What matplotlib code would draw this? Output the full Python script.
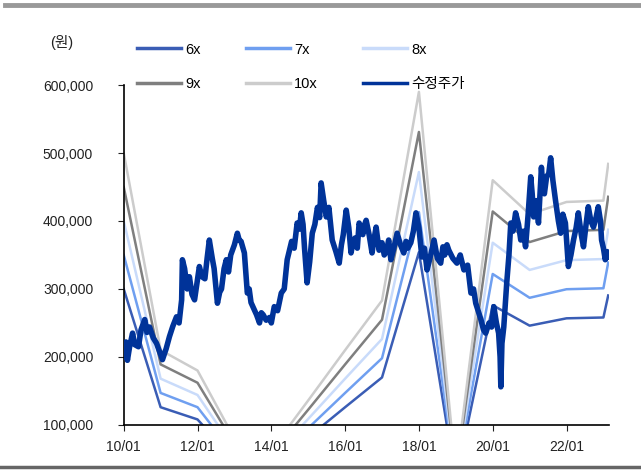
import numpy as np
import matplotlib.pyplot as plt
from matplotlib.lines import Line2D

plt.rcParams['font.family'] = ['Liberation Sans', 'Noto Sans CJK KR', 'DejaVu Sans']

# band anchor dates (decimal year) and EPS used for the PER bands
band_t = [2010.0, 2011.0, 2012.0, 2013.0, 2014.0, 2015.0, 2016.0, 2017.0,
          2018.0, 2019.0, 2020.0, 2021.0, 2022.0, 2023.0, 2023.13]
eps = [50000, 21000, 18000, 8000, 6300, 13600, 21000, 28300,
       59000, 3000, 46000, 41000, 42800, 43000, 48400]
multiples = [6, 7, 8, 9, 10]
band_labels = ['6x', '7x', '8x', '9x', '10x']
band_colors = ['#3a5db5', '#6f9ff0', '#c9dbfa', '#7f7f7f', '#cccccc']

# adjusted close price (수정주가)
price_t = [2010.0, 2010.03, 2010.06, 2010.1, 2010.16, 2010.24, 2010.3, 2010.4, 2010.47,
           2010.57, 2010.63, 2010.7, 2010.8, 2010.89, 2010.97,
           2011.05, 2011.15, 2011.24, 2011.33, 2011.43, 2011.5, 2011.57, 2011.59, 2011.65,
           2011.72, 2011.78, 2011.85, 2011.92, 2012.05, 2012.12, 2012.2, 2012.26, 2012.32,
           2012.4, 2012.45, 2012.54, 2012.6, 2012.65, 2012.72, 2012.78, 2012.84, 2012.9,
           2013.0, 2013.08, 2013.13, 2013.18, 2013.27, 2013.35, 2013.4, 2013.45, 2013.54,
           2013.6, 2013.68, 2013.73, 2013.78, 2013.86, 2013.95, 2014.0, 2014.08, 2014.17,
           2014.27, 2014.35, 2014.43, 2014.55, 2014.62, 2014.7, 2014.76, 2014.81, 2014.86,
           2014.9, 2014.97, 2015.04, 2015.11, 2015.18, 2015.25, 2015.31, 2015.35, 2015.42,
           2015.49, 2015.56, 2015.65, 2015.75, 2015.84, 2015.9, 2015.95, 2016.03, 2016.1,
           2016.16, 2016.22, 2016.27, 2016.33, 2016.38, 2016.48, 2016.53, 2016.57, 2016.65,
           2016.73, 2016.78, 2016.84, 2016.92, 2017.0, 2017.06, 2017.12, 2017.18, 2017.24,
           2017.32, 2017.41, 2017.5, 2017.59, 2017.65, 2017.7, 2017.78, 2017.85, 2017.92,
           2018.0, 2018.08, 2018.15, 2018.22, 2018.32, 2018.41, 2018.5, 2018.59, 2018.65,
           2018.7, 2018.76, 2018.81, 2018.92, 2019.03, 2019.12, 2019.22, 2019.32, 2019.41,
           2019.48, 2019.54, 2019.62, 2019.68, 2019.75, 2019.81, 2019.9, 2019.97, 2020.03,
           2020.1, 2020.16, 2020.2, 2020.22, 2020.25, 2020.3, 2020.38, 2020.44, 2020.49,
           2020.55, 2020.62, 2020.7, 2020.76, 2020.83, 2020.89, 2020.96, 2021.03, 2021.07,
           2021.11, 2021.18, 2021.24, 2021.32, 2021.36, 2021.4, 2021.46, 2021.52, 2021.57,
           2021.63, 2021.7, 2021.78, 2021.84, 2021.9, 2021.97, 2022.05, 2022.12, 2022.19,
           2022.26, 2022.32, 2022.4, 2022.46, 2022.53, 2022.59, 2022.66, 2022.73, 2022.8,
           2022.86, 2022.92, 2022.95, 2023.0, 2023.05, 2023.1, 2023.14]
price = [215000, 200000, 222000, 195000, 215000, 235000, 218000, 215000, 240000,
         255000, 236000, 244000, 228000, 220000, 208000,
         196000, 212000, 230000, 245000, 259000, 250000, 284000, 343000, 330000,
         300000, 318000, 292000, 284000, 333000, 318000, 315000, 345000, 372000,
         345000, 330000, 279000, 295000, 300000, 330000, 343000, 325000, 350000,
         365000, 382000, 372000, 370000, 353000, 294000, 300000, 280000, 269000,
         262000, 250000, 265000, 262000, 254000, 258000, 250000, 274000, 268000,
         294000, 300000, 343000, 370000, 360000, 397000, 388000, 412000, 395000,
         360000, 309000, 340000, 382000, 395000, 420000, 405000, 456000, 430000,
         406000, 420000, 372000, 355000, 338000, 365000, 380000, 416000, 390000,
         353000, 370000, 375000, 360000, 397000, 380000, 395000, 401000, 380000,
         353000, 372000, 391000, 357000, 368000, 350000, 355000, 372000, 343000,
         360000, 382000, 365000, 353000, 370000, 360000, 368000, 385000, 412000,
         390000, 347000, 360000, 328000, 350000, 372000, 345000, 338000, 362000,
         350000, 365000, 357000, 345000, 338000, 350000, 328000, 335000, 294000,
         300000, 279000, 265000, 255000, 240000, 235000, 250000, 244000, 274000,
         250000, 235000, 200000, 156000, 220000, 244000, 309000, 350000, 397000,
         385000, 412000, 395000, 372000, 385000, 362000, 410000, 465000, 440000,
         406000, 430000, 397000, 479000, 450000, 440000, 465000, 470000, 493000,
         460000, 431000, 400000, 382000, 410000, 397000, 333000, 350000, 372000,
         390000, 412000, 380000, 362000, 395000, 421000, 400000, 391000, 405000,
         421000, 400000, 372000, 360000, 343000, 355000, 347000]

fig = plt.figure(figsize=(6.41, 4.70), dpi=100)
ax = fig.add_axes([0.193, 0.096, 0.757, 0.723])

handles = []
for m, lab, col in zip(multiples, band_labels, band_colors):
    vals = [e * m for e in eps]
    h, = ax.plot(band_t, vals, color=col, lw=1.8, label=lab, zorder=2)
    handles.append(h)
hp, = ax.plot(price_t, price, color='#003399', lw=4.0, label='수정주가', zorder=3)
handles.append(hp)

ax.set_xlim(2010.0, 2023.15)
ax.set_ylim(100000, 600000)
ax.set_xticks([2010, 2012, 2014, 2016, 2018, 2020, 2022])
ax.set_xticklabels(['10/01', '12/01', '14/01', '16/01', '18/01', '20/01', '22/01'])
ax.set_yticks(np.arange(100000, 600001, 100000))
ax.set_yticklabels(['{:,}'.format(v) for v in range(100000, 600001, 100000)])
ax.tick_params(axis='both', labelsize=10, colors='#222222', length=4, width=0.8)
ax.tick_params(axis='y', pad=18)
ax.tick_params(axis='x', pad=7)
for s in ['top', 'right']:
    ax.spines[s].set_visible(False)
for s in ['left', 'bottom']:
    ax.spines[s].set_linewidth(1.2)

# legend: 3 columns, filled column-wise
order = [0, 3, 1, 4, 2, 5]
fig.legend([handles[i] for i in order], [handles[i].get_label() for i in order],
           ncol=3, loc='upper left', bbox_to_anchor=(0.203, 0.925), frameon=False,
           fontsize=10.5, handlelength=3.0, handletextpad=0.3, columnspacing=3.1,
           labelspacing=1.4, borderpad=0)
for lh in fig.legends[0].get_lines():
    lh.set_linewidth(2.5)

fig.text(0.097, 0.91, '(원)', ha='center', va='center', fontsize=10.5, color='#222222')

# frame rules at top and bottom
fig.add_artist(Line2D([0.008, 1.0], [0.99, 0.99], color='#999999', lw=3.5))
fig.add_artist(Line2D([0.0, 1.0], [0.006, 0.006], color='#666666', lw=2.5))

fig.savefig('out.png', dpi=100)
